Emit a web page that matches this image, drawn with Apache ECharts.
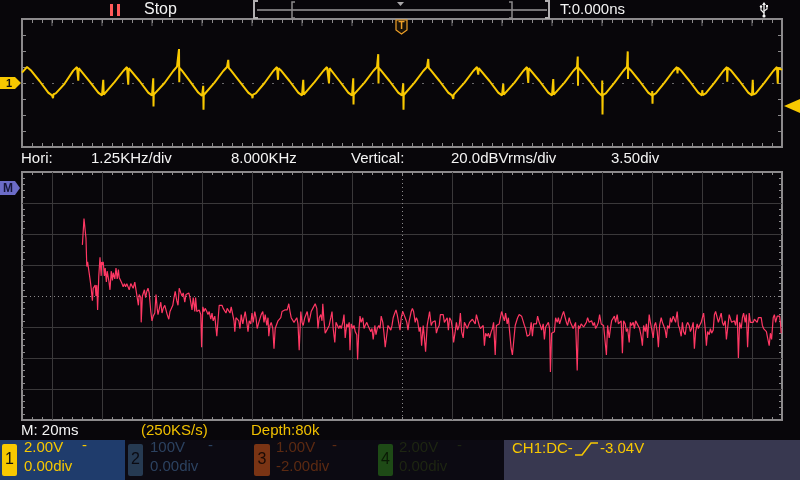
<!DOCTYPE html>
<html>
<head>
<meta charset="utf-8">
<title>CH1 + FFT</title>
<script src="https://cdn.jsdelivr.net/npm/echarts@6.0.0/dist/echarts.min.js"></script>
<style>
  html, body { margin: 0; padding: 0; background: #08060a; }
  #chart { width: 800px; height: 480px; }
</style>
</head>
<body>
<div id="chart"></div>
<script>
// CH1 time trace, [time ms, volts]  (20ms/div, 2.00V/div)
const ch1Wave = [
  [-152, 1.3], [-150, 2.0], [-148.5, 1.6], [-145, 0.25], [-141.5, -1.2], [-140, -1.55], [-139.6, -1.9], [-139.4, -1.4],
  [-138.5, -1.3], [-135, -0.1], [-131.5, 1.55], [-130, 2.0], [-129.5, 1.9], [-129.5, 0.3], [-129.3, 1.85], [-128.5, 1.6],
  [-125, 0.2], [-121.5, -1.2], [-120, -1.55], [-119.5, -1.5], [-119.5, 0.4], [-119.3, -1.45], [-118.5, -1.3], [-115, 0.1],
  [-111.5, 1.5], [-110, 2.0], [-109.5, 1.9], [-109.5, -0.2], [-109.3, 1.85], [-108.5, 1.6], [-105, 0.25], [-101.5, -1.2],
  [-100, -1.55], [-99.5, -1.5], [-99.5, 0.6], [-99.4, -2.95], [-99.3, -1.45], [-98.5, -1.3], [-95, 0.0], [-91.5, 1.5],
  [-90, 2.05], [-89.3, 2.0], [-89.2, 4.25], [-89.1, 0.1], [-89.0, 1.9], [-88, 1.55], [-85, 0.3], [-81.5, -1.2],
  [-80, -1.6], [-79.6, -1.5], [-79.5, -0.35], [-79.4, -3.35], [-79.3, -1.5], [-78.5, -1.3], [-75, 0.05], [-71.5, 1.5],
  [-70, 2.0], [-69.5, 2.0], [-69.5, 2.9], [-69.3, 1.9], [-68.5, 1.6], [-65, 0.2], [-61.5, -1.2], [-60, -1.55],
  [-59.8, -1.9], [-59.6, -1.45], [-58.5, -1.3], [-55, 0.0], [-51.5, 1.5], [-50, 2.0], [-49.6, 1.9], [-49.6, 0.4],
  [-49.4, 1.85], [-48.5, 1.6], [-45, 0.25], [-41.5, -1.2], [-40, -1.55], [-39.5, -1.5], [-39.5, 0.4], [-39.3, -1.45],
  [-38.5, -1.3], [-35, 0.1], [-31.5, 1.5], [-30, 2.0], [-29.3, 1.9], [-29.2, -0.05], [-29.0, 1.85], [-28.5, 1.6],
  [-25, 0.25], [-21.5, -1.2], [-20, -1.55], [-19.6, -1.5], [-19.5, 0.6], [-19.4, -2.7], [-19.3, -1.45], [-18.5, -1.3],
  [-15, 0.05], [-11.5, 1.5], [-10, 2.0], [-9.6, 2.0], [-9.5, 3.6], [-9.4, -0.05], [-9.3, 1.9], [-8.5, 1.6],
  [-5, 0.25], [-1.5, -1.2], [0, -1.55], [0.4, -1.5], [0.5, -0.05], [0.6, -3.35], [0.7, -1.5], [1.5, -1.3],
  [5, 0.05], [8.5, 1.5], [10, 2.0], [10.5, 2.0], [10.5, 3.0], [10.7, 1.9], [11.5, 1.6], [15, 0.25],
  [18.5, -1.2], [20, -1.55], [20.4, -1.5], [20.5, -2.0], [20.7, -1.45], [21.5, -1.3], [25, 0.05], [28.5, 1.5],
  [30, 2.0], [30.5, 1.9], [30.5, 1.05], [30.7, 1.85], [31.5, 1.6], [35, 0.25], [38.5, -1.2], [40, -1.55],
  [40.5, -1.5], [40.5, -0.1], [40.7, -1.45], [41.5, -1.3], [45, 0.05], [48.5, 1.5], [50, 2.0], [50.5, 1.9],
  [50.5, 0.0], [50.7, 1.85], [51.5, 1.6], [55, 0.25], [58.5, -1.2], [60, -1.55], [60.5, -1.5], [60.5, 0.5],
  [60.7, -1.45], [61.5, -1.3], [65, 0.05], [68.5, 1.5], [70, 2.0], [70.2, 2.0], [70.3, 3.3], [70.4, -0.35],
  [70.5, 1.9], [71.5, 1.6], [75, 0.25], [78.5, -1.2], [80, -1.6], [80.0, -1.55], [80.1, 0.3], [80.2, -3.95],
  [80.3, -1.5], [81.5, -1.3], [85, 0.05], [88.5, 1.5], [90, 2.05], [90.2, 2.0], [90.3, 3.95], [90.4, 0.5],
  [90.5, 1.9], [91.5, 1.6], [95, 0.25], [98.5, -1.2], [100, -1.55], [100.1, -1.0], [100.2, -2.6], [100.3, -1.5],
  [101.5, -1.3], [105, 0.05], [108.5, 1.5], [110, 2.0], [110.2, 1.2], [110.4, 1.9], [111.5, 1.6], [115, 0.25],
  [118.5, -1.2], [120, -1.55], [120.1, -0.9], [120.3, -1.5], [121.5, -1.3], [125, 0.05], [128.5, 1.5], [130, 2.0],
  [130.1, 0.15], [130.3, 1.9], [131.5, 1.6], [135, 0.25], [138.5, -1.2], [140, -1.55], [140.3, 0.4], [140.5, -1.45],
  [141.5, -1.3], [145, 0.05], [148.5, 1.5], [150, 2.0], [150.3, -0.1], [150.5, 1.9], [152, 1.65]
];

// Math FFT, [frequency kHz, dBVrms]  (1.25KHz/div, 20dB/div)
const fftSpectrum = [
  [0.01, -27], [0.03, -27], [0.05, -10], [0.08, -10], [0.10, -23], [0.12, -41], [0.14, -38], [0.18, -39],
  [0.20, -49], [0.23, -55], [0.26, -63], [0.28, -55], [0.33, -53], [0.35, -60], [0.37, -53], [0.39, -69],
  [0.42, -47], [0.45, -35], [0.48, -47], [0.49, -38], [0.52, -40], [0.53, -38], [0.56, -47], [0.58, -42],
  [0.61, -51], [0.63, -44], [0.67, -50], [0.70, -56], [0.73, -44], [0.76, -50], [0.78, -45], [0.82, -49],
  [0.85, -42], [0.88, -49], [0.91, -43], [0.93, -48], [0.97, -47], [1.00, -52], [1.03, -54], [1.06, -52],
  [1.09, -54], [1.12, -52], [1.15, -53], [1.18, -56], [1.22, -52], [1.25, -51], [1.28, -55], [1.32, -51],
  [1.35, -56], [1.38, -57], [1.41, -66], [1.43, -59], [1.47, -61], [1.48, -77], [1.51, -60], [1.53, -59],
  [1.56, -56], [1.59, -61], [1.62, -57], [1.65, -55], [1.68, -58], [1.72, -70], [1.75, -76], [1.78, -73],
  [1.82, -71], [1.85, -59], [1.88, -68], [1.90, -72], [1.93, -71], [1.97, -64], [2.00, -71], [2.03, -68],
  [2.07, -66], [2.10, -67], [2.13, -72], [2.17, -75], [2.20, -70], [2.23, -70], [2.27, -66], [2.30, -61],
  [2.33, -57], [2.37, -63], [2.40, -66], [2.43, -55], [2.47, -58], [2.50, -60], [2.53, -58], [2.57, -64],
  [2.60, -59], [2.63, -60], [2.67, -58], [2.70, -61], [2.73, -60], [2.75, -69], [2.78, -61], [2.82, -70],
  [2.84, -61], [2.87, -70], [2.90, -69], [2.93, -69], [2.97, -72], [2.99, -93], [3.02, -67], [3.05, -70],
  [3.08, -68], [3.12, -70], [3.15, -72], [3.18, -70], [3.22, -75], [3.25, -71], [3.28, -76], [3.32, -73],
  [3.35, -74], [3.37, -86], [3.40, -76], [3.43, -66], [3.47, -67], [3.50, -66], [3.53, -68], [3.57, -69],
  [3.60, -71], [3.63, -68], [3.67, -68], [3.70, -71], [3.73, -67], [3.77, -66], [3.80, -76], [3.82, -83],
  [3.85, -74], [3.88, -75], [3.92, -76], [3.95, -81], [3.98, -72], [4.02, -78], [4.05, -74], [4.08, -70],
  [4.12, -77], [4.15, -83], [4.18, -76], [4.22, -78], [4.25, -71], [4.28, -77], [4.32, -70], [4.35, -74],
  [4.38, -81], [4.42, -77], [4.45, -78], [4.48, -72], [4.52, -70], [4.55, -77], [4.58, -72], [4.62, -79],
  [4.65, -74], [4.67, -86], [4.70, -79], [4.73, -77], [4.77, -81], [4.80, -94], [4.83, -81], [4.87, -81],
  [4.90, -76], [4.93, -76], [4.97, -74], [5.00, -70], [5.03, -71], [5.07, -69], [5.10, -70], [5.13, -69],
  [5.17, -65], [5.20, -70], [5.23, -74], [5.27, -75], [5.30, -77], [5.33, -76], [5.37, -74], [5.40, -78],
  [5.43, -95], [5.47, -70], [5.50, -77], [5.53, -79], [5.57, -74], [5.60, -73], [5.63, -70], [5.67, -77],
  [5.70, -74], [5.73, -70], [5.77, -68], [5.80, -67], [5.83, -65], [5.87, -68], [5.90, -81], [5.93, -74],
  [5.97, -72], [6.00, -76], [6.02, -65], [6.05, -76], [6.08, -84], [6.12, -82], [6.15, -81], [6.18, -79],
  [6.22, -74], [6.25, -70], [6.28, -81], [6.32, -90], [6.35, -77], [6.38, -78], [6.42, -81], [6.45, -79],
  [6.48, -81], [6.52, -77], [6.55, -72], [6.58, -87], [6.62, -78], [6.65, -80], [6.68, -77], [6.70, -95],
  [6.73, -78], [6.77, -81], [6.80, -79], [6.83, -83], [6.87, -85], [6.89, -101], [6.92, -83], [6.95, -73],
  [6.98, -77], [7.02, -74], [7.05, -81], [7.08, -79], [7.12, -77], [7.15, -79], [7.18, -80], [7.22, -83],
  [7.25, -81], [7.28, -88], [7.32, -79], [7.35, -85], [7.38, -81], [7.42, -79], [7.45, -81], [7.48, -73],
  [7.52, -77], [7.55, -84], [7.58, -93], [7.62, -85], [7.65, -79], [7.68, -79], [7.72, -82], [7.75, -79],
  [7.78, -74], [7.82, -71], [7.85, -69], [7.88, -72], [7.92, -71], [7.95, -82], [7.98, -74], [8.02, -70],
  [8.05, -72], [8.08, -74], [8.12, -77], [8.15, -82], [8.18, -76], [8.23, -70], [8.26, -68], [8.29, -70],
  [8.33, -77], [8.36, -74], [8.39, -76], [8.43, -83], [8.46, -80], [8.49, -92], [8.53, -79], [8.56, -87],
  [8.59, -96], [8.63, -79], [8.66, -78], [8.69, -70], [8.73, -79], [8.76, -77], [8.79, -77], [8.83, -76],
  [8.86, -84], [8.89, -81], [8.93, -79], [8.96, -72], [8.99, -71], [9.03, -72], [9.06, -77], [9.09, -77],
  [9.13, -74], [9.16, -82], [9.19, -74], [9.23, -76], [9.26, -81], [9.29, -90], [9.33, -83], [9.36, -77],
  [9.39, -82], [9.43, -79], [9.46, -71], [9.49, -83], [9.53, -87], [9.56, -77], [9.59, -78], [9.63, -81],
  [9.66, -82], [9.69, -77], [9.73, -76], [9.76, -75], [9.79, -76], [9.83, -78], [9.86, -72], [9.89, -72],
  [9.93, -79], [9.96, -81], [9.99, -82], [10.03, -79], [10.06, -92], [10.09, -84], [10.13, -86], [10.16, -84],
  [10.19, -87], [10.23, -83], [10.26, -81], [10.29, -77], [10.33, -98], [10.36, -79], [10.39, -79], [10.43, -78],
  [10.46, -79], [10.49, -70], [10.53, -71], [10.56, -76], [10.59, -71], [10.63, -78], [10.66, -74], [10.69, -83],
  [10.73, -94], [10.76, -98], [10.79, -90], [10.83, -79], [10.86, -78], [10.89, -74], [10.93, -72], [10.96, -71],
  [10.99, -73], [11.03, -74], [11.06, -79], [11.09, -81], [11.13, -86], [11.16, -85], [11.19, -85], [11.23, -77],
  [11.26, -86], [11.29, -78], [11.33, -79], [11.36, -78], [11.39, -73], [11.43, -77], [11.46, -79], [11.49, -82],
  [11.53, -78], [11.56, -88], [11.59, -80], [11.63, -79], [11.66, -77], [11.69, -81], [11.71, -109], [11.74, -84],
  [11.78, -85], [11.81, -83], [11.84, -74], [11.88, -77], [11.91, -74], [11.94, -78], [11.98, -77], [12.01, -72],
  [12.04, -70], [12.08, -69], [12.11, -77], [12.14, -79], [12.18, -74], [12.21, -77], [12.24, -76], [12.28, -81],
  [12.31, -79], [12.34, -77], [12.38, -108], [12.41, -79], [12.44, -81], [12.48, -78], [12.51, -77], [12.54, -80],
  [12.58, -79], [12.61, -77], [12.64, -74], [12.68, -77], [12.71, -78], [12.74, -76], [12.78, -79], [12.81, -77],
  [12.84, -81], [12.88, -79], [12.91, -77], [12.94, -72], [12.98, -78], [13.01, -77], [13.04, -79], [13.08, -78],
  [13.11, -98], [13.14, -79], [13.18, -87], [13.21, -81], [13.24, -76], [13.28, -77], [13.31, -73], [13.34, -77],
  [13.38, -72], [13.41, -78], [13.44, -77], [13.48, -76], [13.51, -97], [13.54, -76], [13.58, -78], [13.61, -83],
  [13.64, -81], [13.68, -90], [13.71, -77], [13.74, -79], [13.78, -77], [13.81, -81], [13.84, -76], [13.88, -78],
  [13.91, -77], [13.94, -81], [13.98, -86], [14.01, -92], [14.04, -79], [14.08, -83], [14.11, -78], [14.14, -87],
  [14.18, -72], [14.21, -77], [14.24, -81], [14.28, -87], [14.31, -79], [14.34, -77], [14.38, -83], [14.41, -93],
  [14.44, -79], [14.48, -74], [14.51, -77], [14.54, -79], [14.58, -82], [14.61, -87], [14.64, -79], [14.68, -81],
  [14.71, -74], [14.74, -77], [14.78, -73], [14.81, -74], [14.84, -77], [14.88, -70], [14.91, -79], [14.94, -81],
  [14.98, -86], [15.01, -77], [15.04, -83], [15.08, -85], [15.11, -79], [15.14, -77], [15.18, -79], [15.21, -83],
  [15.24, -81], [15.28, -77], [15.31, -94], [15.34, -83], [15.38, -78], [15.41, -81], [15.44, -79], [15.48, -77],
  [15.51, -74], [15.54, -71], [15.58, -81], [15.61, -92], [15.64, -83], [15.68, -85], [15.71, -81], [15.74, -84],
  [15.78, -82], [15.81, -72], [15.84, -70], [15.88, -71], [15.91, -77], [15.94, -77], [15.98, -71], [16.01, -77],
  [16.04, -79], [16.08, -76], [16.11, -88], [16.14, -81], [16.18, -72], [16.21, -72], [16.24, -77], [16.28, -78],
  [16.31, -76], [16.34, -79], [16.38, -72], [16.41, -100], [16.44, -77], [16.48, -81], [16.51, -74], [16.54, -71],
  [16.58, -77], [16.61, -72], [16.64, -93], [16.68, -71], [16.71, -77], [16.74, -76], [16.78, -77], [16.81, -75],
  [16.84, -74], [16.88, -77], [16.91, -74], [16.94, -74], [16.98, -74], [17.01, -79], [17.04, -81], [17.08, -80],
  [17.11, -83], [17.14, -87], [17.18, -92], [17.21, -84], [17.24, -88], [17.28, -74], [17.31, -72], [17.34, -77],
  [17.38, -73], [17.41, -72], [17.44, -73], [17.46, -77], [17.48, -84]
];

// screen divisions
const timeMajorMs = [-140, -120, -100, -80, -60, -40, -20, 0, 20, 40, 60, 80, 100, 120, 140];
const fftGridKHz = [-0.75, 0.5, 1.75, 3, 4.25, 5.5, 6.75, 9.25, 10.5, 11.75, 13, 14.25, 15.5, 16.75];
const fftGridDb = [-120, -100, -80, -40, -20, 0];
const fftCenterKHz = 8;
const fftCenterDb = -60;

// status texts
const horiTexts = ['Hori:', '1.25KHz/div', '8.000KHz', 'Vertical:', '20.0dBVrms/div', '3.50div'];
const acqTexts = ['M: 20ms', '(250KS/s)', 'Depth:80k'];
const chScales = ['2.00V', '100V', '1.00V', '2.00V'];
const chOffsets = ['0.00div', '0.00div', '-2.00div', '0.00div'];

const FONT = '"Liberation Sans", Arial, sans-serif';
const FRAME = '#8c8a8c';
const YEL = '#f7c800';

const chart = echarts.init(document.getElementById('chart'));

function txt(x, y, s, color, size) {
  return {
    type: 'text', z: 100,
    style: { text: s, x: x, y: y, fill: color, font: (size || 15) + 'px ' + FONT, align: 'left', verticalAlign: 'middle' }
  };
}
function box(x, y, w, h, color, r) {
  return { type: 'rect', z: 90, shape: { x: x, y: y, width: w, height: h, r: r || 0 }, style: { fill: color } };
}
function pline(points, color, width) {
  return { type: 'polyline', z: 100, shape: { points: points }, style: { stroke: color, lineWidth: width || 1, fill: null } };
}

const tickStyle = { color: FRAME, width: 1 };
const noLine = { show: false, onZero: false };
function timeAxis(pos) {
  return {
    type: 'value', gridIndex: 0, position: pos, min: -152, max: 152, interval: 4,
    axisLine: noLine, axisLabel: { show: false }, splitLine: { show: false },
    axisTick: { show: true, inside: true, length: 4, lineStyle: tickStyle }
  };
}
function freqAxis(pos) {
  return {
    type: 'value', gridIndex: 1, position: pos, min: -1.5, max: 17.5, interval: 0.25,
    axisLine: noLine, axisLabel: { show: false }, splitLine: { show: false },
    axisTick: { show: true, inside: true, length: 3, lineStyle: tickStyle }
  };
}
function voltAxis(pos) {
  return {
    type: 'value', gridIndex: 0, position: pos, min: -8, max: 8, interval: 2,
    axisLine: noLine, axisLabel: { show: false }, splitLine: { show: false },
    axisTick: { show: true, inside: true, length: 4, lineStyle: tickStyle }
  };
}
function dbAxis(pos) {
  return {
    type: 'value', gridIndex: 1, position: pos, min: -140, max: 20, interval: 20,
    axisLine: noLine, axisLabel: { show: false }, splitLine: { show: false },
    axisTick: { show: true, inside: true, length: 4, lineStyle: tickStyle },
    minorTick: { show: true, splitNumber: 5, length: 3, lineStyle: tickStyle }
  };
}

const gridLine = { color: '#3a383a', width: 1, type: 'solid' };
const centerLine = { color: '#8c8a8c', width: 1, type: [1, 3] };

const option = {
  backgroundColor: '#08060a',
  animation: false,
  grid: [
    { left: 22, top: 19, width: 760, height: 128, show: true, borderColor: FRAME, borderWidth: 2, backgroundColor: 'transparent' },
    { left: 22, top: 172, width: 760, height: 248, show: true, borderColor: FRAME, borderWidth: 2, backgroundColor: 'transparent' }
  ],
  xAxis: [timeAxis('bottom'), timeAxis('top'), freqAxis('bottom'), freqAxis('top')],
  yAxis: [voltAxis('left'), voltAxis('right'), dbAxis('left'), dbAxis('right')],
  series: [
    {
      name: 'ch1-center', type: 'line', xAxisIndex: 0, yAxisIndex: 0, data: [], z: 1,
      markLine: {
        silent: true, symbol: ['none', 'none'], label: { show: false }, animation: false,
        lineStyle: { color: '#6a686a', width: 1, type: [2, 8] },
        data: [{ yAxis: 0 }]
      }
    },
    {
      name: 'ch1-major', type: 'scatter', xAxisIndex: 1, yAxisIndex: 0, z: 2, silent: true,
      symbol: 'rect', symbolSize: [1, 7], symbolOffset: [0, 3.5],
      itemStyle: { color: FRAME },
      data: timeMajorMs.map(t => [t, 8])
    },
    {
      name: 'CH1', type: 'line', xAxisIndex: 0, yAxisIndex: 0, z: 5,
      showSymbol: false, symbol: 'none',
      lineStyle: { color: '#f8c800', width: 2 },
      data: ch1Wave
    },
    {
      name: 'fft-grid', type: 'line', xAxisIndex: 2, yAxisIndex: 2, data: [], z: 1,
      markLine: {
        silent: true, symbol: ['none', 'none'], label: { show: false }, animation: false,
        lineStyle: gridLine,
        data: fftGridKHz.map(f => ({ xAxis: f })).concat(fftGridDb.map(d => ({ yAxis: d })))
      }
    },
    {
      name: 'fft-center', type: 'line', xAxisIndex: 2, yAxisIndex: 2, data: [], z: 2,
      markLine: {
        silent: true, symbol: ['none', 'none'], label: { show: false }, animation: false,
        lineStyle: centerLine,
        data: [{ xAxis: fftCenterKHz }, { yAxis: fftCenterDb }]
      }
    },
    {
      name: 'FFT', type: 'line', xAxisIndex: 2, yAxisIndex: 2, z: 5,
      showSymbol: false, symbol: 'none',
      lineStyle: { color: '#ff3864', width: 1.2 },
      data: fftSpectrum
    }
  ],
  graphic: [
    // top bar
    box(110, 4, 3, 12, '#ff5a5a'), box(117, 4, 3, 12, '#ff5a5a'),
    txt(144, 10, 'Stop', '#f4f4f4', 16),
    pline([[257, 10], [547, 10]], '#9a989a', 1.5),
    pline([[258, 1], [254, 1], [254, 18], [258, 18]], '#b0aeb0', 2),
    pline([[295, 2], [292, 2], [292, 18], [295, 18]], '#8c8a8c', 1.5),
    pline([[509, 2], [512, 2], [512, 18], [509, 18]], '#8c8a8c', 1.5),
    pline([[545, 1], [549, 1], [549, 18], [545, 18]], '#b0aeb0', 2),
    { type: 'polygon', z: 100, shape: { points: [[397, 2], [404, 2], [400.5, 6]] }, style: { fill: '#a8a6a8' } },
    txt(560, 10, 'T:0.000ns', '#f4f4f4', 15),
    pline([[764, 3], [764, 16]], '#f4f4f4', 1.3),
    { type: 'polygon', z: 100, shape: { points: [[762, 5], [764, 2], [766, 5]] }, style: { fill: '#f4f4f4' } },
    pline([[764, 13], [761, 10], [761, 7]], '#f4f4f4', 1.2),
    pline([[764, 11], [767, 9], [767, 7]], '#f4f4f4', 1.2),
    { type: 'circle', z: 100, shape: { cx: 761, cy: 6.5, r: 1.2 }, style: { fill: '#f4f4f4' } },
    box(766, 5, 2, 2, '#f4f4f4'),
    { type: 'circle', z: 100, shape: { cx: 764, cy: 16, r: 1.6 }, style: { fill: '#f4f4f4' } },
    // trigger position marker
    { type: 'polygon', z: 100, shape: { points: [[396, 20], [407, 20], [407, 30], [401.5, 34], [396, 30]] },
      style: { fill: '#1a1208', stroke: '#f0a028', lineWidth: 1.2 } },
    { type: 'text', z: 101, style: { text: 'T', x: 401.5, y: 26, fill: '#f0a028', font: 'bold 10px ' + FONT, align: 'center', verticalAlign: 'middle' } },
    // channel 1 ground marker
    { type: 'polygon', z: 100, shape: { points: [[0, 77], [15, 77], [21, 83], [15, 89], [0, 89]] }, style: { fill: YEL } },
    { type: 'text', z: 101, style: { text: '1', x: 9, y: 83.5, fill: '#101010', font: 'bold 11px ' + FONT, align: 'center', verticalAlign: 'middle' } },
    // trigger level marker
    { type: 'polygon', z: 100, shape: { points: [[784, 106], [800, 99], [800, 113]] }, style: { fill: YEL } },
    // math marker
    { type: 'polygon', z: 100, shape: { points: [[0, 181], [15, 181], [20, 188], [15, 195], [0, 195]] }, style: { fill: '#6c6cc8' } },
    { type: 'text', z: 101, style: { text: 'M', x: 8, y: 188.5, fill: '#16163a', font: 'bold 12px ' + FONT, align: 'center', verticalAlign: 'middle' } },
    // horizontal / vertical info row
    txt(21, 159, horiTexts[0], '#f4f4f4'), txt(91, 159, horiTexts[1], '#f4f4f4'), txt(231, 159, horiTexts[2], '#f4f4f4'),
    txt(351, 159, horiTexts[3], '#f4f4f4'), txt(451, 159, horiTexts[4], '#f4f4f4'), txt(611, 159, horiTexts[5], '#f4f4f4'),
    // acquisition row
    txt(21, 431, acqTexts[0], '#f4f4f4'), txt(141, 431, acqTexts[1], '#f0c000'), txt(251, 431, acqTexts[2], '#f0c000'),
    // channel status bar
    box(0, 440, 125, 40, '#1f3c6c'),
    box(125, 440, 379, 40, '#0c0a12'),
    box(2, 444, 15, 32, YEL, 2),
    { type: 'text', z: 101, style: { text: '1', x: 9.5, y: 460, fill: '#101010', font: '16px ' + FONT, align: 'center', verticalAlign: 'middle' } },
    txt(24, 448, chScales[0], YEL), txt(82, 446, '-', YEL), txt(24, 467, chOffsets[0], YEL),
    box(128, 444, 15, 32, '#263a52', 2),
    { type: 'text', z: 101, style: { text: '2', x: 135.5, y: 460, fill: '#0a0a12', font: '16px ' + FONT, align: 'center', verticalAlign: 'middle' } },
    txt(150, 448, chScales[1], '#2c4260'), txt(208, 446, '-', '#2c4260'), txt(150, 467, chOffsets[1], '#2c4260'),
    box(254, 444, 16, 32, '#7a3414', 2),
    { type: 'text', z: 101, style: { text: '3', x: 262, y: 460, fill: '#1a0a05', font: '16px ' + FONT, align: 'center', verticalAlign: 'middle' } },
    txt(276, 448, chScales[2], '#5c2a12'), txt(332, 446, '-', '#5c2a12'), txt(276, 467, chOffsets[2], '#5c2a12'),
    box(378, 444, 15, 32, '#1e4a16', 2),
    { type: 'text', z: 101, style: { text: '4', x: 385.5, y: 460, fill: '#0a1a05', font: '16px ' + FONT, align: 'center', verticalAlign: 'middle' } },
    txt(399, 448, chScales[3], '#1e2612'), txt(457, 446, '-', '#1e2612'), txt(399, 467, chOffsets[3], '#1e2612'),
    // trigger status
    box(504, 440, 296, 40, '#383850'),
    txt(512, 449, 'CH1:DC-', YEL),
    pline([[575, 455], [582, 455], [591, 443], [598, 443]], YEL, 1.5),
    txt(600, 449, '-3.04V', YEL)
  ]
};

chart.setOption(option);
</script>
</body>
</html>
